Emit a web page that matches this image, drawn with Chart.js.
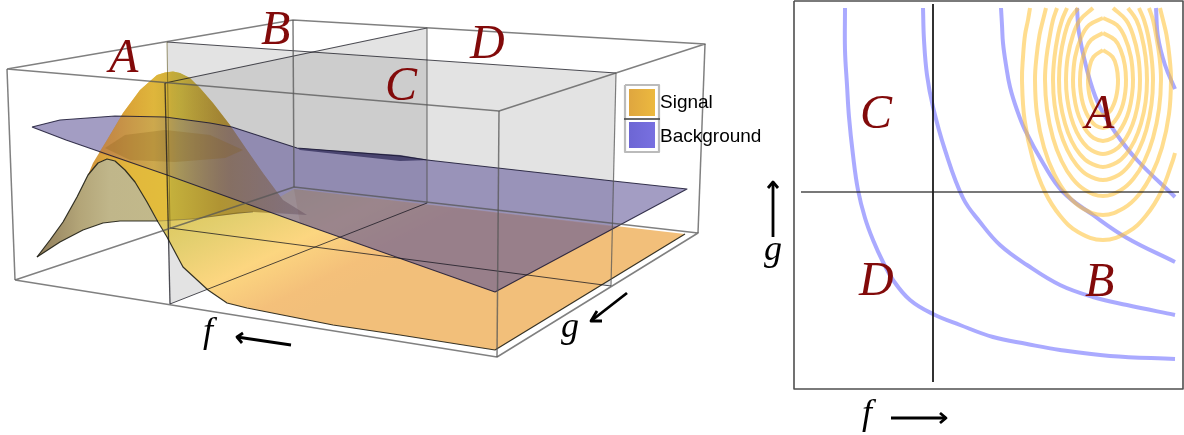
<!DOCTYPE html>
<html>
<head>
<meta charset="utf-8">
<title>Signal and background in f and g</title>
<script src="https://cdn.jsdelivr.net/npm/chart.js@4"></script>
<style>
    html, body { margin: 0; padding: 0; background: #fff; }
    canvas { display: block; }
</style>
</head>
<body>
<canvas id="chart" width="1184" height="435"></canvas>
<script>

// --- 3D box
const boxEdges = [
    [[7, 69], [293, 20], [705, 44], [499, 111], [7, 69]],
    [[15, 280], [294, 187], [698, 233], [497, 357], [15, 280]],
    [[7, 69], [15, 280]],
    [[293, 20], [294, 187]],
    [[705, 44], [698, 233]],
    [[499, 111], [497, 357]]
];
const planeF = [[165, 83], [427, 28], [427, 203], [170, 304]];
const planeG = [[167, 42], [616, 73], [611, 286], [170, 228]];

// --- signal surface
const floorSurface = [[158, 221], [193, 219], [253, 212], [294, 189], [685, 234], [495, 350], [400, 335],
    [333, 325], [247, 308], [227, 303], [208, 290], [183, 267], [167, 237]];
const hillSurface = [[88, 175], [93, 163], [107, 140], [123, 113], [140, 90], [157, 75], [165, 72.5], [173, 71.5],
    [180, 73], [190, 78], [200, 88], [213, 103], [230, 125], [247, 150], [263, 173], [283, 200], [307, 215],
    [253, 212], [193, 219], [158, 221], [147, 202], [135, 182], [125, 170], [115, 161], [107, 159], [98, 163]];
const hillAbovePlane = [[99, 153], [107, 140], [123, 113], [140, 90], [157, 75], [165, 72.5], [173, 71.5], [180, 73],
    [190, 78], [200, 88], [213, 103], [230, 125], [247, 150], [263, 173], [283, 200], [307, 215], [270, 212], [167, 175]];
const frontCurve = [[37, 257], [50, 240], [63, 222], [77, 197], [88, 175], [98, 163], [107, 159], [115, 161],
    [125, 170], [135, 182], [147, 202], [158, 222], [167, 237], [183, 267], [208, 290], [227, 303], [247, 308],
    [333, 325], [400, 335], [495, 350], [685, 234]];
const lowerCurve = [[37, 257], [60, 242], [83, 230], [103, 223], [120, 221], [137, 221], [158, 221]];
const lowerCurveFaint = [[158, 221], [193, 219], [237, 213], [253, 212]];
const hillCap = [[105, 148], [125, 135], [165, 130], [210, 135], [243, 150], [225, 158], [175, 162], [130, 160]];

// --- background surface
const backgroundPlane = [[32, 127], [60, 120], [115, 116], [165, 117], [210, 123], [232, 127], [297, 148], [400, 156],
    [427, 160], [613, 181], [687, 189], [495, 292], [300, 223], [167, 175], [66, 140]];
const backgroundWedge = [[297, 148], [400, 155], [430, 160], [400, 161], [300, 150]];
const planeOverFloor = [[294, 189], [617, 227], [495, 292], [300, 223]];

// --- legend
const legendFrame = [[625, 85], [659, 85], [659, 152], [625, 152], [625, 85]];
const legendDivider = [[624, 119], [660, 119]];
const signalSwatch = [[629, 89], [655, 89], [655, 116], [629, 116]];
const backgroundSwatch = [[629, 122], [655, 122], [655, 148], [629, 148]];
const legendNames = ['Signal', 'Background'];
const legendSpots = [[660, 108], [660, 142]];

// --- contour panel
const panelFrame = [[794, 1], [1183, 1], [1183, 389], [794, 389], [794, 1]];
const axisF = [[933, 4], [933, 382]];
const axisG = [[801, 192], [1179, 192]];

const backgroundContours = [
    [[845, 8], [845, 50], [847, 85], [849, 117], [853, 155], [858, 190], [865, 218], [873, 240], [883, 262],
        [893, 280], [910, 300], [933, 314], [960, 325], [993, 337], [1027, 344], [1060, 350], [1110, 356], [1175, 359]],
    [[923, 8], [924, 40], [927, 75], [933, 107], [945, 150], [963, 198], [980, 222], [1000, 245], [1027, 265],
        [1060, 285], [1093, 297], [1127, 305], [1175, 315]],
    [[1001, 8], [1002, 25], [1003, 43], [1006, 65], [1010, 87], [1017, 110], [1025, 130], [1043, 163], [1063, 192],
        [1093, 215], [1127, 238], [1175, 262]],
    [[1077, 8], [1079, 33], [1087, 70], [1098, 103], [1115, 132], [1137, 160], [1175, 197]],
    [[1156, 8], [1158, 37], [1165, 65], [1175, 89]]
];

const signalContours = [
    [[1103, 50], [1093.4, 57], [1089.3, 68], [1088, 80], [1088.5, 89], [1090, 97.5], [1092.3, 104.5], [1095.1, 110],
        [1098.3, 113], [1103, 115], [1107.7, 113], [1110.9, 110], [1113.7, 104.5], [1116, 97.5], [1117.5, 89],
        [1118, 80], [1116.7, 68], [1112.6, 57], [1103, 50]],
    [[1103, 33], [1091, 40], [1085.3, 50], [1081.2, 65], [1080, 80], [1080.7, 92], [1083, 104], [1086.6, 113.6],
        [1091, 120.8], [1095.8, 125.6], [1103, 128], [1110.2, 125.6], [1115, 120.8], [1119.4, 113.6], [1123, 104],
        [1125.3, 92], [1126, 80], [1124.8, 65], [1120.7, 50], [1115, 40], [1103, 33]],
    [[1103, 18], [1089.1, 25], [1081.3, 37], [1075.1, 57], [1073, 80], [1074, 95], [1077, 110.5], [1081.6, 122.7],
        [1087.2, 131.9], [1093.6, 138], [1103, 141], [1112.4, 138], [1118.8, 131.9], [1124.4, 122.7], [1129, 110.5],
        [1132, 95], [1133, 80], [1130.9, 57], [1124.7, 37], [1116.9, 25], [1103, 18]],
    [[1093, 8], [1080, 20], [1073, 35], [1067.7, 57], [1066, 80], [1067.2, 98.5], [1071, 117], [1076.6, 131.8],
        [1083.5, 142.9], [1091.5, 150.3], [1103, 154], [1114.5, 150.3], [1122.5, 142.9], [1129.4, 131.8], [1135, 117],
        [1138.8, 98.5], [1140, 80], [1138.3, 57], [1133, 35], [1126, 20], [1113, 8]],
    [[1078, 8], [1069.6, 20], [1064.6, 35], [1060.4, 57], [1059, 80], [1060.4, 102], [1065, 123.5], [1071.6, 141],
        [1079.8, 154], [1089.3, 162.6], [1103, 167], [1116.7, 162.6], [1126.2, 154], [1134.4, 141], [1141, 123.5],
        [1145.6, 102], [1147, 80], [1145.6, 57], [1141.4, 35], [1136.4, 20], [1128, 8]],
    [[1067, 8], [1062, 20], [1058, 35], [1054.5, 57], [1053, 80], [1054.6, 105], [1059.7, 130], [1067.3, 150],
        [1076.6, 165], [1087.4, 175], [1103, 180], [1118.6, 175], [1129.4, 165], [1138.7, 150], [1146.3, 130],
        [1151.4, 105], [1153, 80], [1151.5, 57], [1148, 35], [1144, 20], [1139, 8]],
    [[1057, 8], [1053, 20], [1050, 35], [1046.5, 57], [1045, 80], [1047, 109], [1053, 138], [1061.6, 161],
        [1072.4, 178.6], [1085, 190], [1103, 196], [1121, 190], [1133.6, 178.6], [1144.4, 161], [1153, 138],
        [1159, 109], [1161, 80], [1159.5, 57], [1156, 35], [1153, 20], [1149, 8]],
    [[1046, 8], [1043, 20], [1039.5, 35], [1036.5, 57], [1035, 80], [1037, 114], [1044, 147.5], [1054.4, 174.5],
        [1067.2, 194.8], [1082, 208], [1103, 215], [1124, 208], [1138.8, 194.8], [1151.6, 174.5], [1162, 147.5],
        [1169, 114], [1171, 80], [1169.5, 57], [1166.5, 35], [1163, 20], [1160, 8]],
    [[1030, 8], [1028, 20], [1025, 35], [1023, 57], [1022, 80], [1024.6, 120], [1033, 160], [1045, 192],
        [1060.3, 216], [1078, 232], [1103, 240], [1128, 232], [1145.7, 216], [1161, 192], [1173, 160], [1175, 153]]
];

// --- arrows
const arrows = [
    [[291, 345], [237, 337]], [[243, 333], [237, 337], [242, 343]],
    [[627, 293], [591, 321]], [[597, 311], [591, 321], [602, 321]],
    [[773, 237], [773, 182]], [[768, 188], [773, 182], [778, 188]],
    [[891, 418], [946, 418]], [[940, 413], [946, 418], [940, 423]]
];

// --- labels
const regionNames = ['A', 'B', 'C', 'D', 'A', 'B', 'C', 'D'];
const regionSpots = [[109, 72], [261, 44], [385, 100], [470, 58], [1085, 128], [1085, 296], [860, 128], [859, 295]];
const axisNames = ['f', 'g', 'g', 'f'];
const axisSpots = [[203, 342], [561, 337], [764, 260], [862, 424]];

const canvas = document.getElementById('chart');
const ctx = canvas.getContext('2d');

// the scales map picture units 1:1 to canvas pixels, so gradients can use them too
function gradient(x0, y0, x1, y1, stops) {
    const g = ctx.createLinearGradient(x0, y0, x1, y1);
    stops.forEach(s => g.addColorStop(s[0], s[1]));
    return g;
}

const toPoints = list => list.map(p => ({ x: p[0], y: p[1] }));

function area(points, color) {
    return { data: toPoints(points), fill: 'shape', backgroundColor: color, borderWidth: 0, borderColor: 'transparent' };
}

function stroke(points, color, width, curved) {
    return { data: toPoints(points), fill: false, borderColor: color, borderWidth: width, tension: curved ? 0.4 : 0 };
}

const grayPlane = 'rgba(128,128,128,0.22)';
const boxGray = 'rgba(85,85,85,0.75)';
const planeLine = 'rgba(20,20,30,0.75)';
const bluish = 'rgba(85,85,255,0.5)';
const yellowish = 'rgba(255,189,40,0.52)';

const datasets = [
    // drawn in this order, back to front
    area(planeF, grayPlane),
    area(planeG, grayPlane),
    area(floorSurface, gradient(200, 190, 270, 330, [
        [0, '#dcc65a'], [0.26, '#e3cf6f'], [0.57, '#fcd680'], [0.86, '#f4c07a'], [1, '#f2bf7a']
    ])),
    area(hillSurface, gradient(88, 0, 307, 0, [
        [0, '#d0913c'], [0.08, '#dca63c'], [0.2, '#e2b83c'], [0.36, '#e2bd3c'], [0.38, '#c4b03c'],
        [0.6, '#b09433'], [1, '#a58a50']
    ])),
    area(lowerCurve.concat(frontCurve.slice(0, 12).reverse()), gradient(37, 0, 158, 0, [
        [0, '#8f7c5a'], [0.35, '#b3a578'], [0.6, '#c0b68a'], [1, '#c2b98b']
    ])),
    area(backgroundPlane, 'rgba(116,106,164,0.66)'),
    area(backgroundWedge, 'rgba(50,45,90,0.75)'),
    area(planeOverFloor, 'rgba(110,80,70,0.14)'),
    // hill seen through the plane, warm on the left and fading to the right
    area(hillAbovePlane, gradient(88, 0, 307, 0, [
        [0, 'rgba(205,130,55,0.8)'], [0.12, 'rgba(212,145,50,0.75)'], [0.3, 'rgba(222,180,60,0.75)'],
        [0.36, 'rgba(205,170,55,0.68)'], [0.42, 'rgba(185,165,60,0.55)'], [0.65, 'rgba(130,95,50,0.35)'],
        [1, 'rgba(120,85,60,0.1)']
    ])),
    area(hillCap, 'rgba(130,90,20,0.25)'),
    stroke(frontCurve, 'rgba(20,20,10,0.85)', 1.2),
    stroke(lowerCurve, 'rgba(20,20,10,0.85)', 1.2),
    stroke(lowerCurveFaint, 'rgba(70,55,10,0.35)', 1),
    stroke(backgroundPlane.concat(backgroundPlane.slice(0, 1)), 'rgba(25,22,50,0.85)', 1.1),
    stroke(planeF.slice(0, 2), planeLine, 1.2),
    stroke(planeF.slice(1, 3), boxGray, 1.2),
    stroke([planeF[2], planeF[3]], planeLine, 1),
    stroke([planeF[3], planeF[0]], planeLine, 1.3),
    stroke(planeG.slice(0, 2), planeLine, 1.2),
    stroke(planeG.slice(1, 3), boxGray, 1.2),
    stroke(planeG.slice(2, 4), planeLine, 1),
    stroke([planeG[3], planeG[0]], 'rgba(90,80,20,0.6)', 1)
];
boxEdges.forEach(edge => datasets.push(stroke(edge, boxGray, 1.5)));

// legend
datasets.push(stroke(legendFrame, 'rgba(120,120,120,0.5)', 2.2));
datasets.push(stroke(legendDivider, 'rgba(80,80,80,0.85)', 2));
datasets.push(area(signalSwatch, gradient(629, 0, 655, 0, [[0, '#dfa63f'], [1, '#ecb93f']])));
datasets.push(area(backgroundSwatch, gradient(629, 0, 655, 0, [[0, '#6d66d4'], [1, '#7870e0']])));

// contour panel
backgroundContours.forEach(c => datasets.push(stroke(c, bluish, 4, true)));
signalContours.forEach(c => datasets.push(stroke(c, yellowish, 4, true)));
datasets.push(stroke(axisF, 'rgba(10,10,10,0.9)', 1));
datasets.push(stroke(axisG, 'rgba(30,30,30,0.8)', 1.4));
datasets.push(stroke(panelFrame, 'rgba(60,60,60,0.9)', 1.6));

arrows.forEach(a => datasets.push(stroke(a, '#000', 2.8)));

// dataset 0 is on top by default, flip it so the list reads back to front
datasets.forEach((d, i) => { d.order = -i; });

const textPlugin = {
    id: 'pictureText',
    afterDatasetsDraw(chart) {
        const c = chart.ctx;
        const sx = chart.scales.x;
        const sy = chart.scales.y;
        const put = (names, spots, font, color) => {
            c.font = font;
            c.fillStyle = color;
            names.forEach((name, i) => {
                c.fillText(name, sx.getPixelForValue(spots[i][0]), sy.getPixelForValue(spots[i][1]));
            });
        };
        c.save();
        c.textAlign = 'left';
        c.textBaseline = 'alphabetic';
        put(regionNames, regionSpots, 'italic 48px "Liberation Serif"', '#820a0a');
        put(axisNames, axisSpots, 'italic 36px "Liberation Serif"', '#000');
        put(legendNames, legendSpots, '19px "Liberation Sans"', '#000');
        c.restore();
    }
};

new Chart(canvas, {
    type: 'line',
    data: { datasets: datasets },
    options: {
        responsive: false,
        animation: false,
        events: [],
        parsing: { xAxisKey: 'x', yAxisKey: 'y' },
        layout: { padding: 0 },
        elements: {
            point: { radius: 0 },
            line: { borderJoinStyle: 'round', borderCapStyle: 'butt', tension: 0 }
        },
        plugins: {
            legend: { display: false },
            tooltip: { enabled: false }
        },
        scales: {
            x: { type: 'linear', min: 0, max: 1184, display: false },
            y: { type: 'linear', min: 0, max: 435, reverse: true, display: false }
        }
    },
    plugins: [textPlugin]
});
</script>
</body>
</html>
